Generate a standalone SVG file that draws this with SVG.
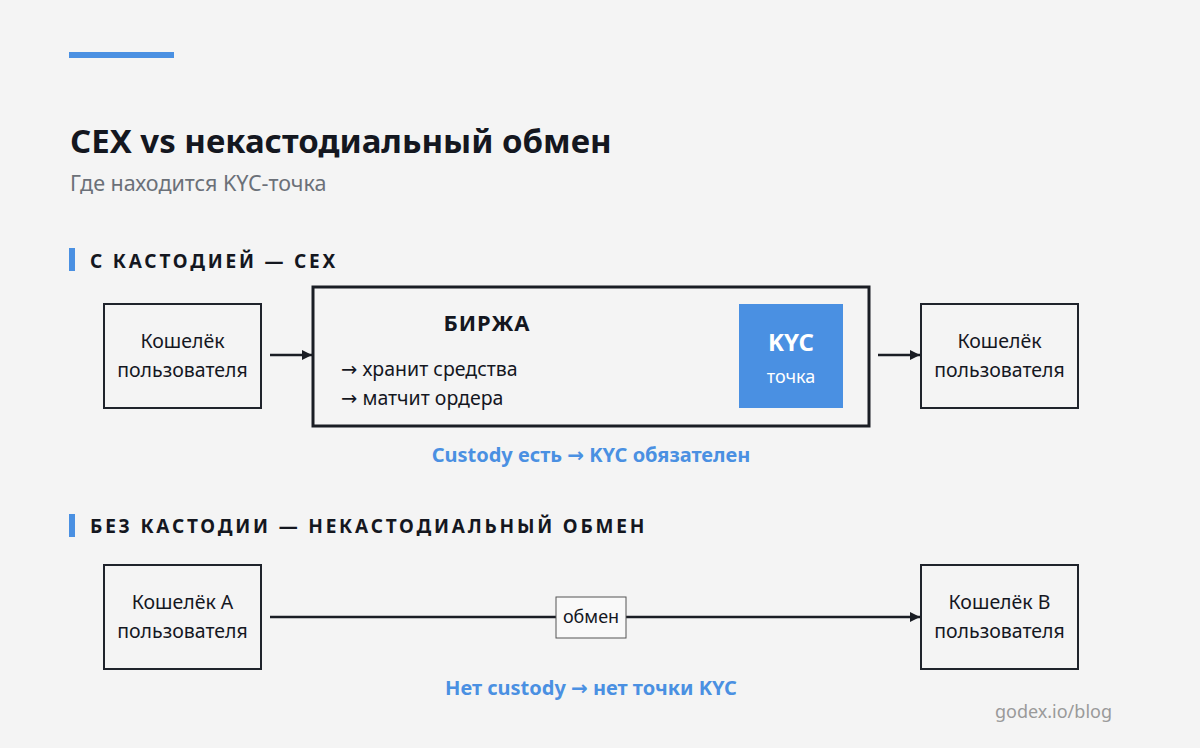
<svg xmlns="http://www.w3.org/2000/svg" width="1200" height="748" viewBox="0 0 1200 748">
<defs>
<marker id="ah" viewBox="0 0 10 10" refX="10" refY="5" markerWidth="10" markerHeight="10" markerUnits="userSpaceOnUse" orient="auto"><path d="M0,0 L10,5 L0,10 z" fill="#1a1d24"/></marker>
<style>
text{font-family:"Noto Sans","Open Sans","DejaVu Sans",sans-serif;fill:#14171f}
.box{fill:none;stroke:#1f232b;stroke-width:2}
.nt{font-size:19.5px;text-anchor:middle}
.sec{font-size:19px;font-weight:700;letter-spacing:2.8px}
.cap{font-size:20px;font-weight:700;fill:#4a90e2;text-anchor:middle}
.edge{stroke:#1a1d24;stroke-width:2.5;fill:none}
</style>
</defs>
<rect width="1200" height="748" fill="#f4f4f4"/>
<rect x="69" y="52" width="105" height="6" fill="#4a90e2"/>
<text x="70" y="153" font-size="33" font-weight="700">CEX vs некастодиальный обмен</text>
<text x="70" y="191" font-size="21.5" style="fill:#6b7078">Где находится KYC-точка</text>

<rect x="69" y="248" width="6" height="23" fill="#4a90e2"/>
<text class="sec" x="90" y="268">С КАСТОДИЕЙ — CEX</text>

<rect x="69" y="514" width="6" height="23" fill="#4a90e2"/>
<text class="sec" x="90" y="533">БЕЗ КАСТОДИИ — НЕКАСТОДИАЛЬНЫЙ ОБМЕН</text>

<g id="connectors">
<line class="edge" x1="270" y1="355" x2="312" y2="355" marker-end="url(#ah)"/>
<line class="edge" x1="878" y1="355" x2="920" y2="355" marker-end="url(#ah)"/>
<line class="edge" x1="270" y1="617" x2="920" y2="617" marker-end="url(#ah)"/>
</g>

<g id="wallet1">
<rect class="box" x="104" y="304" width="157" height="104"/>
<text class="nt" x="182.5" y="348">Кошелёк</text>
<text class="nt" x="182.5" y="377">пользователя</text>
</g>

<g id="exchange">
<rect x="313" y="287" width="556" height="139" fill="none" stroke="#1a1d24" stroke-width="3"/>
<text x="487" y="331" font-size="22" font-weight="700" letter-spacing="1" text-anchor="middle">БИРЖА</text>
<text x="341" y="376" font-size="19.5">→ хранит средства</text>
<text x="341" y="405" font-size="19.5">→ матчит ордера</text>
</g>

<g id="kyc">
<rect x="739" y="304" width="104" height="104" fill="#4a90e2"/>
<text x="791" y="351" font-size="24" font-weight="700" text-anchor="middle" style="fill:#ffffff">KYC</text>
<text x="791" y="383" font-size="18" text-anchor="middle" style="fill:#ffffff">точка</text>
</g>

<g id="wallet2">
<rect class="box" x="921" y="304" width="157" height="104"/>
<text class="nt" x="999.5" y="348">Кошелёк</text>
<text class="nt" x="999.5" y="377">пользователя</text>
</g>

<text class="cap" x="591" y="462">Custody есть → KYC обязателен</text>

<g id="walletA">
<rect class="box" x="104" y="565" width="157" height="104"/>
<text class="nt" x="182.5" y="609">Кошелёк А</text>
<text class="nt" x="182.5" y="638">пользователя</text>
</g>

<g id="swap">
<rect x="556" y="597" width="70" height="41" fill="#f9f9f9" stroke="#555" stroke-width="1"/>
<text x="591" y="623" font-size="18" text-anchor="middle">обмен</text>
</g>

<g id="walletB">
<rect class="box" x="921" y="565" width="157" height="104"/>
<text class="nt" x="999.5" y="609">Кошелёк B</text>
<text class="nt" x="999.5" y="638">пользователя</text>
</g>

<text class="cap" x="591" y="695">Нет custody → нет точки KYC</text>

<text x="1112" y="718" font-size="18" text-anchor="end" style="fill:#9a9a9a">godex.io/blog</text>
</svg>
